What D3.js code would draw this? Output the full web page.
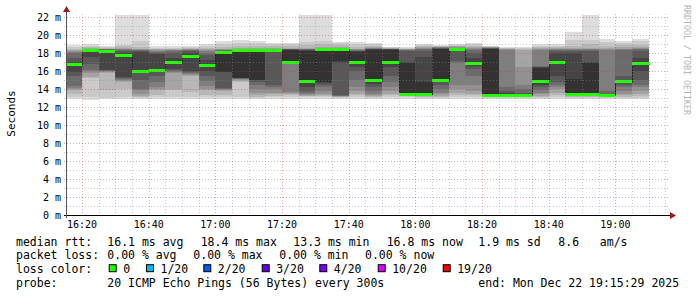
<!DOCTYPE html>
<html>
<head>
<meta charset="utf-8">
<script src="https://cdn.jsdelivr.net/npm/d3@7"></script>
<style>
  body { margin: 0; background: #fff; }
  text { font-family: "DejaVu Sans Mono", monospace; }
</style>
</head>
<body>
<div id="wrapper"></div>
<script>
// step end times (5 min steps)
const stepEnds = ["16:20","16:25","16:30","16:35","16:40","16:45","16:50","16:55",
  "17:00","17:05","17:10","17:15","17:20","17:25","17:30","17:35","17:40","17:45",
  "17:50","17:55","18:00","18:05","18:10","18:15","18:20","18:25","18:30","18:35",
  "18:40","18:45","18:50","18:55","19:00","19:05","19:10"]

// median rtt per step (ms)
const medians = [16.7,18.3,18.2,17.7,16.0,16.1,16.9,17.6,16.6,18.1,18.3,18.3,18.3,17.0,
  14.8,18.4,18.4,16.9,14.9,17.0,13.4,13.4,14.9,18.4,16.8,13.3,13.3,13.3,14.8,16.9,
  13.4,13.4,13.3,14.8,16.8]

// 20 sorted pings per step (ms)
const pings = [
  [12.9,13.1,13.5,13.9,14.0,14.1,14.3,15.5,15.9,16.6,16.8,17.0,17.5,18.0,18.1,18.2,18.3,18.5,18.7,18.9],
  [12.8,13.1,15.2,15.3,15.8,16.0,16.1,16.8,17.6,18.2,18.3,18.3,18.4,18.4,18.5,18.5,18.6,18.7,18.8,19.0],
  [12.9,13.0,13.9,15.8,15.9,16.0,16.0,16.1,16.1,18.2,18.2,18.3,18.3,18.4,18.4,18.5,18.5,18.6,18.7,18.8],
  [12.9,13.1,14.0,14.8,14.9,15.0,15.1,15.2,15.3,17.7,17.7,18.0,18.2,18.3,18.4,18.5,18.6,18.8,18.9,22.3],
  [12.9,13.0,13.1,13.2,13.4,13.9,14.0,15.0,15.8,16.0,16.1,18.1,18.2,18.3,18.3,18.4,18.5,18.7,19.3,22.3],
  [12.9,13.1,13.3,13.9,14.0,14.2,14.8,15.5,15.9,16.1,16.2,17.9,18.0,18.1,18.2,18.3,18.4,18.5,18.6,18.8],
  [12.9,13.1,13.9,14.0,15.8,15.9,16.0,16.1,16.2,16.9,17.1,17.5,18.0,18.2,18.3,18.3,18.4,18.5,18.6,18.8],
  [12.9,13.1,13.7,15.5,15.6,15.7,15.8,15.9,16.0,17.6,17.7,18.0,18.2,18.3,18.3,18.4,18.5,18.6,18.7,18.8],
  [12.9,13.1,13.3,13.9,14.0,14.3,14.9,15.4,16.0,16.6,16.6,17.2,17.8,18.0,18.2,18.3,18.4,18.6,18.8,19.0],
  [12.9,13.1,13.3,13.8,13.9,14.0,14.0,14.1,15.9,15.9,18.1,18.2,18.2,18.3,18.3,18.4,18.5,18.7,19.0,19.3],
  [12.9,13.1,14.8,14.9,15.0,15.1,15.1,15.2,15.2,15.2,18.2,18.3,18.3,18.4,18.4,18.5,18.6,18.8,19.1,19.4],
  [12.9,13.0,13.1,13.3,13.6,14.0,14.4,14.8,15.0,15.0,18.2,18.3,18.3,18.4,18.4,18.5,18.6,18.8,19.1,19.3],
  [12.9,13.1,13.2,13.4,13.6,14.0,14.2,14.4,18.2,18.3,18.3,18.3,18.4,18.4,18.5,18.5,18.6,18.8,19.0,19.1],
  [12.9,13.1,13.3,13.5,13.6,13.7,16.9,16.9,17.0,17.0,18.3,18.3,18.4,18.4,18.5,18.5,18.6,18.8,19.0,19.1],
  [12.9,13.1,13.2,13.2,13.3,13.4,13.6,13.8,14.2,14.8,18.2,18.3,18.3,18.4,18.4,18.5,18.6,18.9,19.2,22.3],
  [12.9,13.1,13.2,13.3,13.5,13.8,14.2,14.5,14.7,14.8,18.4,18.4,18.4,18.5,18.5,18.6,18.7,19.0,19.3,22.3],
  [12.9,13.0,13.1,13.1,13.2,13.2,13.2,13.3,16.9,17.1,18.4,18.4,18.4,18.5,18.5,18.6,18.7,18.9,19.1,19.2],
  [12.9,13.1,13.3,13.5,13.8,14.2,15.0,16.0,16.5,16.9,18.1,18.2,18.2,18.3,18.3,18.4,18.5,18.7,19.0,19.2],
  [12.9,13.0,13.1,13.2,13.3,13.5,13.8,14.2,14.6,14.9,18.3,18.4,18.5,18.5,18.6,18.6,18.7,18.8,19.0,19.1],
  [12.9,13.1,13.3,13.5,13.8,14.2,14.8,15.5,16.5,17.0,18.3,18.4,18.4,18.5,18.5,18.5,18.6,18.6,18.7,18.7],
  [12.9,13.1,13.2,13.3,13.3,13.4,13.4,13.4,13.4,13.4,16.9,17.0,18.2,18.3,18.3,18.4,18.4,18.5,18.6,18.7],
  [12.9,13.0,13.1,13.2,13.3,13.3,13.4,13.4,13.4,13.4,14.8,17.6,18.2,18.4,18.5,18.6,18.7,18.8,18.9,19.0],
  [12.9,13.0,13.1,13.2,13.4,13.6,14.0,14.4,14.8,14.9,18.5,18.5,18.6,18.6,18.7,18.7,18.7,18.8,18.8,18.9],
  [12.9,13.1,13.3,13.6,14.0,14.5,16.9,17.1,18.3,18.4,18.4,18.5,18.5,18.6,18.6,18.7,18.8,18.8,18.9,19.0],
  [12.9,13.1,13.3,13.5,13.8,14.5,15.5,16.2,16.6,16.8,16.9,17.5,18.0,18.3,18.5,18.6,18.7,18.8,19.0,19.1],
  [12.9,13.0,13.1,13.2,13.2,13.3,13.3,13.3,13.3,13.3,18.5,18.5,18.6,18.6,18.6,18.7,18.7,18.7,18.8,18.8],
  [12.9,13.0,13.1,13.2,13.3,13.3,13.3,13.3,13.3,13.3,13.4,13.6,13.8,14.2,18.3,18.4,18.5,18.6,18.6,18.7],
  [12.9,13.0,13.1,13.2,13.3,13.3,13.3,13.3,13.3,13.3,13.3,13.4,13.6,14.0,14.5,16.5,18.3,18.5,18.6,18.7],
  [12.9,13.0,13.1,13.2,13.4,13.6,13.9,14.2,14.5,14.8,16.3,16.4,16.5,16.6,18.3,18.5,18.6,18.7,18.8,19.0],
  [12.9,13.1,13.3,13.6,14.0,14.2,14.5,14.8,15.5,16.9,17.0,18.0,18.2,18.3,18.4,18.5,18.6,18.7,18.8,19.0],
  [12.9,13.0,13.1,13.2,13.3,13.3,13.4,13.4,13.4,13.4,15.1,18.0,18.2,18.3,18.4,18.5,18.6,18.8,19.5,20.3],
  [12.9,13.0,13.1,13.2,13.3,13.3,13.4,13.4,13.4,13.4,16.9,17.0,18.2,18.3,18.4,18.5,18.6,19.0,19.4,22.3],
  [12.9,13.0,13.1,13.2,13.2,13.3,13.3,13.3,13.3,13.3,13.3,13.4,13.5,13.8,18.3,18.5,18.6,18.8,19.2,19.6],
  [12.9,13.0,13.1,13.3,13.5,13.8,14.2,14.5,14.7,14.8,14.9,15.0,15.5,18.3,18.4,18.5,18.7,18.9,19.1,19.3],
  [12.9,13.0,13.2,13.5,13.8,14.2,14.5,15.0,16.0,16.8,16.9,17.5,18.2,18.4,18.5,18.6,18.7,18.9,19.3,19.6]
]

// legend texts
const rttStats = ["16.1 ms avg", "18.4 ms max", "13.3 ms min", "16.8 ms now", "1.9 ms sd", "8.6   am/s"]
const lossStats = ["0.00 % avg", "0.00 % max", "0.00 % min", "0.00 % now"]
const lossLabels = ["0", "1/20", "2/20", "3/20", "4/20", "10/20", "19/20"]
const lossColors = ["#26ff00", "#00b8ff", "#0059ff", "#5e00ff", "#7e00ff", "#dd00ff", "#ff0000"]
const probeText = "20 ICMP Echo Pings (56 Bytes) every 300s"
const endText = "end: Mon Dec 22 19:15:29 2025"
const startTime = "2025-12-22 16:15:29"
const endTime = "2025-12-22 19:15:29"

// layout
const W = 697, H = 297
const plot = {left: 67, right: 667, top: 15, bottom: 215}
const rttX = [107.3, 200.7, 293.3, 386.7, 478.3, 558.3]
const lossX = [107.3, 193.3, 279.3, 365]
const swatchX = [108.7, 146, 203.3, 261.7, 319.3, 377.7, 442.7]
const lineY = [245.5, 259.3, 273.2, 287]

const parseFull = d3.timeParse("%Y-%m-%d %H:%M:%S")
const steps = stepEnds.map((t, i) => {
  const end = parseFull("2025-12-22 " + t + ":00")
  return {start: d3.timeMinute.offset(end, -5), end: end, median: medians[i], pings: pings[i]}
})

const xScale = d3.scaleTime()
  .domain([parseFull(startTime), parseFull(endTime)])
  .range([plot.left, plot.right])
const yScale = d3.scaleLinear()
  .domain([0, (plot.bottom - plot.top) / 9])
  .range([plot.bottom, plot.top])

const svg = d3.select("#wrapper").append("svg")
  .attr("width", W)
  .attr("height", H)
  .style("display", "block")

svg.append("rect").attr("width", W).attr("height", H).attr("fill", "#fff")

svg.append("defs").append("clipPath").attr("id", "clip")
  .append("rect")
  .attr("x", plot.left).attr("y", plot.top)
  .attr("width", plot.right - plot.left).attr("height", plot.bottom - plot.top)

const g = svg.append("g").attr("clip-path", "url(#clip)")

// smoke: pair i covers ping[i]..ping[19-i], darker to the middle
const smoke = []
steps.forEach(s => {
  for (let i = 0; i < 10; i++) {
    const c = Math.floor(190 / 10 * (10 - (i + 1))) + 50
    smoke.push({start: s.start, end: s.end, lo: s.pings[i], hi: s.pings[19 - i], color: d3.rgb(c, c, c)})
  }
})
g.append("g").selectAll("rect")
  .data(smoke)
  .join("rect")
  .attr("x", d => xScale(d.start))
  .attr("width", d => xScale(d.end) - xScale(d.start))
  .attr("y", d => yScale(d.hi))
  .attr("height", d => yScale(d.lo) - yScale(d.hi))
  .attr("fill", d => d.color)
  .attr("shape-rendering", "crispEdges")

// median line
const medPts = []
steps.forEach(s => { medPts.push([s.start, s.median]); medPts.push([s.end, s.median]) })
g.append("path")
  .datum(medPts)
  .attr("d", d3.line().x(d => Math.round(xScale(d[0])) + 0.5).y(d => Math.round(yScale(d[1])) + 0.5))
  .attr("fill", "none")
  .attr("stroke", "#202020")
  .attr("stroke-width", 1)

g.append("g").selectAll("rect")
  .data(steps)
  .join("rect")
  .attr("x", d => xScale(d.start))
  .attr("width", d => xScale(d.end) - xScale(d.start))
  .attr("y", d => yScale(d.median) - 1.5)
  .attr("height", 3)
  .attr("fill", lossColors[0])
  .attr("shape-rendering", "crispEdges")

// grid
const minorT = xScale.ticks(d3.timeMinute.every(5))
const majorT = xScale.ticks(d3.timeMinute.every(20))
const yTicks = yScale.ticks(22)
const grid = svg.append("g").attr("shape-rendering", "crispEdges")
grid.selectAll(".vminor").data(minorT).join("line")
  .attr("x1", d => Math.round(xScale(d)) + 0.5).attr("x2", d => Math.round(xScale(d)) + 0.5)
  .attr("y1", plot.top - 1).attr("y2", plot.bottom + 3)
  .attr("stroke", d => d.getMinutes() % 20 === 0 ? "rgba(200,60,60,0.45)" : "rgba(140,140,140,0.45)")
  .attr("stroke-dasharray", "1,2")
grid.selectAll(".hminor").data(yTicks.filter(d => d > 0)).join("line")
  .attr("x1", plot.left - 3).attr("x2", plot.right + 1)
  .attr("y1", d => Math.round(yScale(d)) + 0.5).attr("y2", d => Math.round(yScale(d)) + 0.5)
  .attr("stroke", d => d % 2 === 0 ? "rgba(200,60,60,0.45)" : "rgba(140,140,140,0.45)")
  .attr("stroke-dasharray", "1,2")

// axes
svg.append("line")
  .attr("x1", plot.left - 3).attr("x2", plot.right + 4)
  .attr("y1", plot.bottom + 0.5).attr("y2", plot.bottom + 0.5)
  .attr("stroke", "#000")
svg.append("line")
  .attr("x1", plot.left - 0.5).attr("x2", plot.left - 0.5)
  .attr("y1", plot.bottom + 3).attr("y2", plot.top - 5)
  .attr("stroke", "#555")
svg.append("path")
  .attr("d", `M${plot.right + 3},${plot.bottom - 3} L${plot.right + 9},${plot.bottom + 0.5} L${plot.right + 3},${plot.bottom + 4} Z`)
  .attr("fill", "#a01818")
svg.append("path")
  .attr("d", `M${plot.left - 4},${plot.top - 3} L${plot.left - 0.5},${plot.top - 9} L${plot.left + 3},${plot.top - 3} Z`)
  .attr("fill", "#a01818")

// tick labels
svg.append("g").selectAll("text")
  .data(yTicks.filter(d => d % 2 === 0))
  .join("text")
  .attr("x", 61)
  .attr("y", d => yScale(d) + 3.5)
  .attr("text-anchor", "end")
  .style("font-size", "10px")
  .attr("fill", "#000")
  .text(d => `${d} m`)
svg.append("g").selectAll("text")
  .data(majorT)
  .join("text")
  .attr("x", d => xScale(d))
  .attr("y", 228)
  .attr("text-anchor", "middle")
  .style("font-size", "10px")
  .attr("fill", "#000")
  .text(d3.timeFormat("%H:%M"))

svg.append("text")
  .attr("transform", "translate(15,113.5) rotate(-90)")
  .attr("text-anchor", "middle")
  .style("font-size", "11px")
  .attr("fill", "#000")
  .text("Seconds")

svg.append("text")
  .attr("transform", "translate(684,5) rotate(90)")
  .style("font-size", "8.3px")
  .attr("fill", "#b4b4b4")
  .text("RRDTOOL / TOBI OETIKER")

// legend
const legend = svg.append("g").style("font-size", "11.5px").attr("fill", "#000")
legend.append("text").attr("x", 16).attr("y", lineY[0]).text("median rtt:")
legend.selectAll(".rtt").data(rttStats).join("text")
  .attr("x", (d, i) => rttX[i]).attr("y", lineY[0])
  .attr("xml:space", "preserve").text(d => d)
legend.append("text").attr("x", 16).attr("y", lineY[1]).text("packet loss:")
legend.selectAll(".loss").data(lossStats).join("text")
  .attr("x", (d, i) => lossX[i]).attr("y", lineY[1]).text(d => d)
legend.append("text").attr("x", 16).attr("y", lineY[2]).text("loss color:")
legend.selectAll(".sw").data(lossColors).join("rect")
  .attr("x", (d, i) => swatchX[i] + 0.5).attr("y", lineY[2] - 8.5)
  .attr("width", 7).attr("height", 7)
  .attr("fill", d => d).attr("stroke", "#000")
legend.selectAll(".ll").data(lossLabels).join("text")
  .attr("x", (d, i) => swatchX[i] + 14.5).attr("y", lineY[2]).text(d => d)
legend.append("text").attr("x", 16).attr("y", lineY[3]).text("probe:")
legend.append("text").attr("x", rttX[0]).attr("y", lineY[3]).text(probeText)
legend.append("text").attr("x", rttX[4]).attr("y", lineY[3]).text(endText)
</script>
</body>
</html>
